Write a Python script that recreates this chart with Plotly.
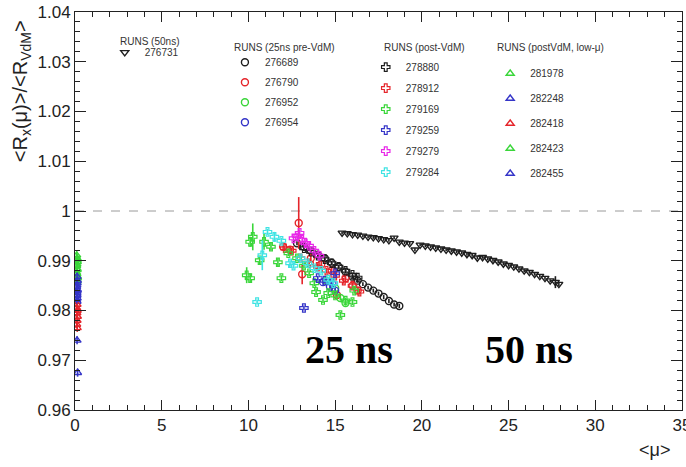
import plotly.graph_objects as go

# ---------------- data ----------------
# RUNS (50ns)
mu_276731 = [15.4, 15.7, 16.0, 16.3, 16.6, 16.9, 17.2, 17.5, 17.8, 18.1, 18.4, 18.7, 19.0, 19.3,
             19.6, 19.9, 20.2, 20.5, 20.8, 21.1, 21.4, 21.7, 22.0, 22.3, 22.6, 22.9, 23.2, 23.5,
             23.8, 24.1, 24.4, 24.7, 25.0, 25.3, 25.6, 25.9, 26.2, 26.5, 26.8, 27.1, 27.4, 27.7, 27.9]
r_276731 = [0.9956, 0.9955, 0.9953, 0.9952, 0.9950, 0.9948, 0.9947, 0.9945, 0.9943, 0.9941, 0.9946,
            0.9938, 0.9936, 0.9935, 0.9922, 0.9932, 0.9930, 0.9928, 0.9926, 0.9924, 0.9922, 0.9920,
            0.9918, 0.9916, 0.9913, 0.9911, 0.9906, 0.9907, 0.9904, 0.9901, 0.9898, 0.9894, 0.9891,
            0.9888, 0.9884, 0.9880, 0.9877, 0.9873, 0.9869, 0.9865, 0.9860, 0.9857, 0.9853]
e_276731 = [0.0003] * 41 + [0.0012, 0.0004]

# RUNS (25ns pre-VdM)
mu_276689 = [12.8, 13.2, 13.6, 14.0, 14.4, 14.8, 15.2, 15.6, 16.0, 16.3, 16.6, 16.9, 17.2, 17.5,
             17.8, 18.1, 18.4, 18.7]
r_276689 = [0.9935, 0.9928, 0.9920, 0.9912, 0.9905, 0.9896, 0.9888, 0.9878, 0.9868, 0.9860, 0.9853,
            0.9846, 0.9840, 0.9834, 0.9827, 0.9819, 0.9812, 0.9809]
e_276689 = [0.0004] * 18

mu_276790 = [12.0, 12.4, 12.9, 13.1, 13.6, 14.2, 14.8, 15.1, 15.6, 16.0, 16.3]
r_276790 = [0.9928, 0.9922, 0.9976, 0.9873, 0.9905, 0.9893, 0.9880, 0.9831, 0.9865, 0.9850, 0.9840]
e_276790 = [0.0006, 0.0006, 0.0052, 0.0020, 0.0006, 0.0006, 0.0006, 0.0008, 0.0006, 0.0006, 0.0006]

mu_276952 = [14.5, 15.0, 15.3, 15.6]
r_276952 = [0.9860, 0.9845, 0.9825, 0.9815]
e_276952 = [0.0005] * 4

mu_276954 = [14.3, 14.7, 15.0]
r_276954 = [0.9857, 0.9848, 0.9840]
e_276954 = [0.0005] * 3

# RUNS (post-VdM)
mu_278880 = [13.2, 13.6, 14.0, 14.4, 14.8, 15.2, 15.6, 16.0, 16.3]
r_278880 = [0.9925, 0.9918, 0.9910, 0.9903, 0.9895, 0.9888, 0.9880, 0.9872, 0.9866]
e_278880 = [0.0004] * 9

mu_278912 = [12.1, 12.5, 13.0, 13.5, 14.0, 14.5, 15.0, 15.5, 16.0, 16.4]
r_278912 = [0.9925, 0.9920, 0.9905, 0.9895, 0.9888, 0.9880, 0.9870, 0.9860, 0.9850, 0.9838]
e_278912 = [0.0006] * 10

mu_279169 = [9.9, 10.1, 10.25, 10.1, 10.65, 10.9, 11.3, 11.7, 11.9, 12.3, 12.8, 13.2, 13.5, 13.8,
             13.9, 14.3, 14.6, 15.0, 15.3, 15.6, 16.0, 16.1]
r_279169 = [0.9871, 0.9865, 0.9948, 0.9938, 0.9901, 0.9938, 0.9928, 0.9897, 0.9865, 0.9915, 0.9905,
            0.9890, 0.9875, 0.9855, 0.9837, 0.9821, 0.9835, 0.9830, 0.9791, 0.9820, 0.9817, 0.9840]
e_279169 = [0.0016, 0.0008, 0.0027, 0.0010, 0.0008, 0.0016, 0.0008, 0.0008, 0.0006, 0.0006, 0.0006,
            0.0006, 0.0006, 0.0006, 0.0006, 0.0006, 0.0006, 0.0006, 0.0006, 0.0006, 0.0006, 0.0006]

mu_279259 = [13.2, 14.0, 14.4, 14.8, 15.0]
r_279259 = [0.9805, 0.9865, 0.9860, 0.9855, 0.9875]
e_279259 = [0.0005] * 5

mu_279279 = [12.6, 12.8, 12.95, 13.1, 13.3, 13.5, 13.8, 14.1]
r_279279 = [0.9945, 0.9950, 0.9956, 0.9942, 0.9935, 0.9930, 0.9920, 0.9910]
e_279279 = [0.0006] * 8

mu_279284 = [10.5, 10.8, 11.1, 11.5, 11.9, 12.4, 12.6, 13.0, 13.4, 13.8, 14.2, 14.6, 14.9]
r_279284 = [0.9817, 0.9911, 0.9958, 0.9948, 0.9940, 0.9895, 0.9890, 0.9905, 0.9895, 0.9885, 0.9880,
            0.9862, 0.9855]
e_279284 = [0.0005, 0.0030, 0.0006, 0.0010, 0.0006, 0.0006, 0.0006, 0.0006, 0.0006, 0.0006, 0.0006,
            0.0006, 0.0006]

# RUNS (postVdM, low-mu)
mu_281978 = [0.10, 0.12, 0.14, 0.10, 0.13, 0.11, 0.15, 0.12]
r_281978 = [0.9911, 0.9905, 0.9898, 0.9890, 0.9882, 0.9873, 0.9866, 0.9858]
mu_282248 = [0.11, 0.13, 0.10, 0.14, 0.12, 0.11, 0.13, 0.12]
r_282248 = [0.9862, 0.9855, 0.9848, 0.9842, 0.9836, 0.9830, 0.9825, 0.9818]
mu_282418 = [0.12, 0.10, 0.13, 0.11, 0.14, 0.12, 0.10, 0.13]
r_282418 = [0.9812, 0.9805, 0.9800, 0.9795, 0.9788, 0.9780, 0.9772, 0.9765]
mu_282423 = [0.13, 0.11, 0.12, 0.10, 0.14, 0.12]
r_282423 = [0.9902, 0.9893, 0.9884, 0.9876, 0.9868, 0.9862]
mu_282455 = [0.12, 0.14, 0.11, 0.13, 0.12, 0.10, 0.12, 0.15]
r_282455 = [0.9868, 0.9860, 0.9851, 0.9840, 0.9832, 0.9822, 0.9740, 0.9675]
e_lowmu = 0.0008

# ---------------- style ----------------
BLACK = "#1e1e1e"
RED = "#e5252b"
GREEN = "#3ad63a"
BLUE = "#3535c8"
MAGENTA = "#e828e8"
CYAN = "#3fe3e3"
FONT = "Liberation Sans, Arial, sans-serif"

fig = go.Figure()


def add(name, xs, ys, errs, color, symbol, legend, size=7, lw=1.4):
    fig.add_trace(go.Scatter(
        x=xs, y=ys, mode="markers", name=name, legend=legend, legendgroup=name,
        marker=dict(symbol=symbol, size=size, color=color,
                    line=dict(color=color, width=lw)),
        error_y=dict(type="data", array=errs, color=color, thickness=1.6, width=0),
    ))


# 25ns pre-VdM
add("276689", mu_276689, r_276689, e_276689, BLACK, "circle-open", "legend2")
add("276790", mu_276790, r_276790, e_276790, RED, "circle-open", "legend2")
add("276952", mu_276952, r_276952, e_276952, GREEN, "circle-open", "legend2")
add("276954", mu_276954, r_276954, e_276954, BLUE, "circle-open", "legend2")
# post-VdM
add("278880", mu_278880, r_278880, e_278880, BLACK, "cross-open", "legend3", 7, 1.2)
add("278912", mu_278912, r_278912, e_278912, RED, "cross-open", "legend3", 7, 1.2)
add("279169", mu_279169, r_279169, e_279169, GREEN, "cross-open", "legend3", 7, 1.2)
add("279259", mu_279259, r_279259, e_279259, BLUE, "cross-open", "legend3", 7, 1.2)
add("279279", mu_279279, r_279279, e_279279, MAGENTA, "cross-open", "legend3", 7, 1.2)
add("279284", mu_279284, r_279284, e_279284, CYAN, "cross-open", "legend3", 7, 1.2)
# low mu
add("281978", mu_281978, r_281978, [e_lowmu] * len(r_281978), GREEN, "triangle-up-open", "legend4")
add("282248", mu_282248, r_282248, [e_lowmu] * len(r_282248), BLUE, "triangle-up-open", "legend4")
add("282418", mu_282418, r_282418, [e_lowmu] * len(r_282418), RED, "triangle-up-open", "legend4")
add("282423", mu_282423, r_282423, [e_lowmu] * len(r_282423), GREEN, "triangle-up-open", "legend4")
add("282455", mu_282455, r_282455, [e_lowmu] * len(r_282455), BLUE, "triangle-up-open", "legend4")
# 50 ns
add("276731", mu_276731, r_276731, e_276731, BLACK, "triangle-down-open", "legend", 7)

leg_common = dict(bgcolor="rgba(0,0,0,0)", borderwidth=0, xanchor="left", yanchor="top",
                  font=dict(family=FONT, size=10, color="#333"), traceorder="grouped",
                  itemclick=False)

axis_common = dict(showline=True, linecolor="#222", linewidth=1, mirror="ticks",
                   ticks="inside", tickcolor="#222", showgrid=False, zeroline=False,
                   automargin=False, ticklabeloverflow="allow",
                   tickfont=dict(family=FONT, size=17, color="#222"))

fig.update_layout(
    width=686, height=467,
    margin=dict(l=75, r=4, t=12, b=57, autoexpand=False),
    paper_bgcolor="white", plot_bgcolor="white",
    showlegend=True,
    xaxis=dict(range=[0, 35], dtick=5, ticklen=10, tickwidth=1,
               minor=dict(dtick=1, ticklen=5, ticks="inside", tickcolor="#222"),
               **axis_common),
    yaxis=dict(range=[0.96, 1.04], dtick=0.01, ticklen=11, tickwidth=1,
               minor=dict(dtick=0.002, ticklen=5, ticks="inside", tickcolor="#222"),
               **axis_common),
    legend=dict(x=0.049, y=0.935, tracegroupgap=0, **leg_common),
    legend2=dict(x=0.247, y=0.91, tracegroupgap=1, **leg_common),
    legend3=dict(x=0.479, y=0.898, tracegroupgap=2, **leg_common),
    legend4=dict(x=0.684, y=0.882, tracegroupgap=6, **leg_common),
    shapes=[dict(type="line", xref="x", yref="y", x0=0, x1=35, y0=1, y1=1,
                 line=dict(color="#9a9a9a", width=1, dash="dash"), layer="below")],
)

ann_font = dict(family=FONT, size=10, color="#333")
titles = [("RUNS (50ns)", 0.0708, 0.925),
          ("RUNS (25ns pre-VdM)", 0.258, 0.911),
          ("RUNS (post-VdM)", 0.505, 0.911),
          ("RUNS (postVdM, low-μ)", 0.692, 0.911)]
for txt, px, py in titles:
    fig.add_annotation(text=txt, x=px, y=py, xref="paper", yref="paper",
                       xanchor="left", yanchor="middle", showarrow=False, font=ann_font)

fig.add_annotation(text="25 ns", x=15.8, y=0.9722, xref="x", yref="y", showarrow=False,
                   font=dict(family="Liberation Serif, Times New Roman, serif", size=40,
                             color="black", weight="bold"))
fig.add_annotation(text="50 ns", x=26.2, y=0.9722, xref="x", yref="y", showarrow=False,
                   font=dict(family="Liberation Serif, Times New Roman, serif", size=40,
                             color="black", weight="bold"))

fig.add_annotation(text="&lt;R<sub>x</sub>(μ)&gt;/&lt;R<sub>VdM</sub>&gt;", textangle=-90,
                   x=-0.088, y=0.80, xref="paper", yref="paper", showarrow=False,
                   xanchor="center", yanchor="middle",
                   font=dict(family=FONT, size=20, color="#222"))
fig.add_annotation(text="&lt;μ&gt;", x=0.955, y=-0.10, xref="paper", yref="paper",
                   showarrow=False, xanchor="center", yanchor="middle",
                   font=dict(family=FONT, size=18, color="#222"))

fig.write_html("out.html", config={"displayModeBar": False},
               post_script="document.body.style.margin='0';")
